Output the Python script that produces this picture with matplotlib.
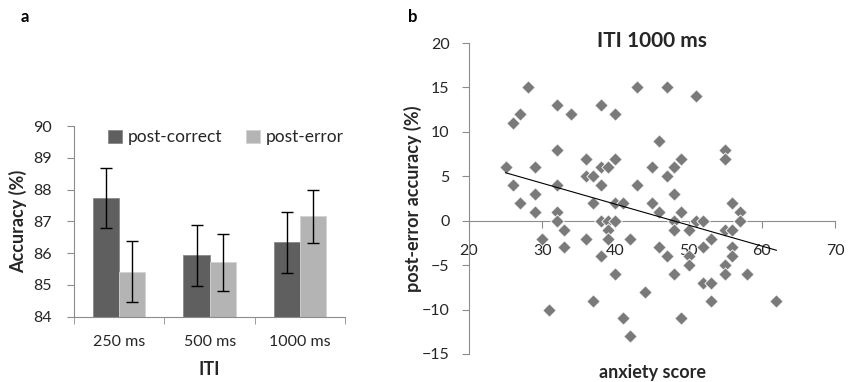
import numpy as np
import matplotlib
matplotlib.use("Agg")
import matplotlib.pyplot as plt

plt.rcParams['font.family'] = ['Lato', 'DejaVu Sans']

# ---- panel a data ----
iti_labels = ["250 ms", "500 ms", "1000 ms"]
post_correct = [87.74, 85.93, 86.34]
post_correct_err = [0.94, 0.95, 0.96]
post_error = [85.41, 85.71, 87.16]
post_error_err = [0.96, 0.90, 0.83]

# ---- panel b data (anxiety score, post-error accuracy) ----
anxiety = [25, 26, 27, 28, 26, 27, 29, 29, 29,
           32, 32, 32, 32, 32, 34,
           36, 36, 37, 37, 38, 38, 38, 39, 40, 40, 40, 41,
           38, 39, 40,
           43, 43, 45, 45, 46, 46, 47, 47, 48, 48, 49, 49,
           51, 51, 52, 48,
           55, 55, 56, 57, 57,
           30, 33, 33, 31, 36, 37, 38, 39, 39, 40, 41, 42, 42, 44,
           46, 47, 48, 48, 49, 50, 50, 50, 52, 52, 53, 53, 53,
           55, 55, 55, 56, 56, 56, 58, 62]
pe_accuracy = [6, 11, 12, 15, 4, 2, 6, 3, 1,
               13, 8, 4, 1, 0, 12,
               7, 5, 5, 2, 13, 6, 4, 6, 12, 7, 2, 2,
               0, 0, 0,
               15, 4, 6, 2, 9, 1, 15, 5, 6, 3, 7, 1,
               14, 0, 0, 0,
               8, 7, 2, 1, 0,
               -2, -1, -3, -10, -2, -9, -4, -1, -2, -6, -11, -2, -13, -8,
               -3, -4, -1, -6, -11, -1, -4, -5, -3, -7, -2, -7, -9,
               -1, -5, -6, -1, -3, -4, -6, -9]

fig = plt.figure(figsize=(8.48, 3.82), dpi=100)

spine_col = '#8c8c8c'
text_col = '#262626'
lab_size = 13

# ----------- a : bars -----------
ax1 = fig.add_axes([0.0873, 0.171, 0.32, 0.499])
x = np.arange(len(iti_labels))
w = 0.29
ax1.bar(x - w / 2, post_correct, w, color='#5f5f5f', edgecolor='#8a8a8a',
        linewidth=0.6, label='post-correct', zorder=2)
ax1.bar(x + w / 2, post_error, w, color='#b4b4b4', edgecolor='#d2d2d2',
        linewidth=0.6, label='post-error', zorder=2)
ax1.errorbar(x - w / 2, post_correct, yerr=post_correct_err, fmt='none',
             ecolor='black', elinewidth=1, capsize=4, capthick=1, zorder=3)
ax1.errorbar(x + w / 2, post_error, yerr=post_error_err, fmt='none',
             ecolor='black', elinewidth=1, capsize=4, capthick=1, zorder=3)
ax1.set_ylim(84, 90)
ax1.set_xlim(-0.5, 2.5)
ax1.set_yticks(range(84, 91))
ax1.set_xticks(x)
ax1.set_xticklabels(iti_labels)
ax1.set_xticks([-0.5, 0.5, 1.5, 2.5], minor=True)
ax1.tick_params(axis='x', which='major', length=0, pad=13, labelsize=11.5, colors=text_col)
ax1.tick_params(axis='x', which='minor', length=5, color=spine_col)
ax1.tick_params(axis='y', length=5, color=spine_col, labelsize=11.5, colors=text_col, pad=11)
for s in ['top', 'right']:
    ax1.spines[s].set_visible(False)
for s in ['left', 'bottom']:
    ax1.spines[s].set_color(spine_col)
ax1.set_ylabel('Accuracy (%)', fontweight='bold', fontsize=lab_size, color=text_col, labelpad=4)
ax1.set_xlabel('ITI', fontweight='bold', fontsize=lab_size, color=text_col, labelpad=9)
ax1.legend(loc='upper center', bbox_to_anchor=(0.56, 1.065), ncol=2, frameon=False,
           fontsize=12.5, handlelength=0.8, handleheight=0.8, handletextpad=0.3,
           columnspacing=1.4, labelcolor=text_col)
fig.text(0.024, 0.955, 'a', fontweight='bold', fontsize=12, va='center')

# ----------- b : scatter -----------
ax2 = fig.add_axes([0.553, 0.0733, 0.4316, 0.814])
ax2.scatter(anxiety, pe_accuracy, marker='D', s=46, color='#7a7a7a',
            edgecolors='white', linewidths=0.6, zorder=3)
slope, icpt = np.polyfit(anxiety, pe_accuracy, 1)
xl = np.array([min(anxiety), max(anxiety)])
ax2.plot(xl, slope * xl + icpt, color='black', linewidth=0.8, zorder=4)
ax2.set_xlim(20, 70)
ax2.set_ylim(-15, 20)
ax2.set_xticks(range(20, 71, 10))
ax2.set_yticks(range(-15, 21, 5))
ax2.spines['bottom'].set_position(('data', 0))
for s in ['top', 'right']:
    ax2.spines[s].set_visible(False)
for s in ['left', 'bottom']:
    ax2.spines[s].set_color(spine_col)
ax2.tick_params(axis='x', length=5, color=spine_col, pad=12, labelsize=11.5, colors=text_col)
ax2.tick_params(axis='y', length=5, color=spine_col, pad=9, labelsize=11.5, colors=text_col)
ax2.set_title('ITI 1000 ms', fontweight='bold', fontsize=15, color=text_col, y=0.96)
ax2.set_ylabel('post-error accuracy (%)', fontweight='bold', fontsize=lab_size, color=text_col, labelpad=0)
fig.text(0.769, 0.026, 'anxiety score', fontweight='bold', fontsize=lab_size,
         color=text_col, ha='center', va='center')
fig.text(0.481, 0.955, 'b', fontweight='bold', fontsize=12, va='center')

fig.savefig('out.png', dpi=100)
